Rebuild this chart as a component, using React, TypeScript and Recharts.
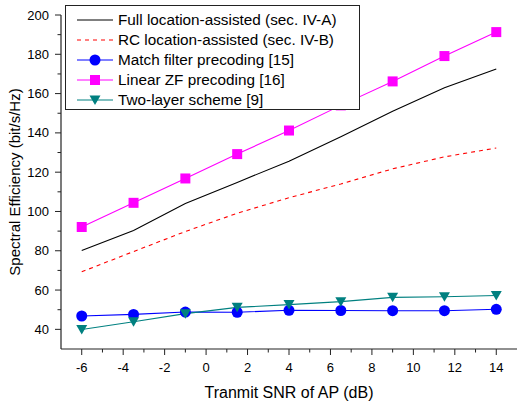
import { LineChart, Line, XAxis, YAxis, Legend } from "recharts";

const snr = [-6, -3.5, -1, 1.5, 4, 6.5, 9, 11.5, 14];
const fullLoc = [80.1, 90.3, 104.1, 114.8, 125.6, 138, 151, 163, 172.5];
const rcLoc = [69.3, 79.6, 89.8, 99.1, 107, 114, 121.7, 127.8, 132.3];
const matchFilter = [46.8, 47.6, 48.8, 48.7, 49.7, 49.6, 49.5, 49.5, 50.2];
const linearZF = [92.1, 104.4, 116.8, 129.2, 141.2, 154, 166.2, 179.1, 191.3];
const twoLayer = [39.9, 43.9, 48, 51.2, 52.6, 54.1, 56.3, 56.6, 57.2];

const seriesNames = [
  "Full location-assisted (sec. IV-A)",
  "RC location-assisted (sec. IV-B)",
  "Match filter precoding [15]",
  "Linear ZF precoding [16]",
  "Two-layer scheme [9]",
];

const xTicks = [-6, -5, -4, -3, -2, -1, 0, 1, 2, 3, 4, 5, 6, 7, 8, 9, 10, 11, 12, 13, 14];
const yTicks = [40, 50, 60, 70, 80, 90, 100, 110, 120, 130, 140, 150, 160, 170, 180, 190, 200];

const data = snr.map((s, i) => ({
  snr: s,
  full: fullLoc[i],
  rc: rcLoc[i],
  mf: matchFilter[i],
  zf: linearZF[i],
  two: twoLayer[i],
}));

const FONT = "Arial, 'Liberation Sans', sans-serif";
const AXIS = "#222";

const Square = (props: any) => {
  const { cx, cy } = props;
  if (cx == null || cy == null) return null;
  return <rect x={cx - 5} y={cy - 5} width={10} height={10} fill="#ff00ff" />;
};

const Tri = (props: any) => {
  const { cx, cy } = props;
  if (cx == null || cy == null) return null;
  return (
    <path
      d={`M${cx - 5.5},${cy - 4.5}L${cx + 5.5},${cy - 4.5}L${cx},${cy + 5}Z`}
      fill="#008080"
    />
  );
};

const XTick = (props: any) => {
  const { x, y, payload } = props;
  const major = payload.value % 2 === 0;
  return (
    <g>
      <line x1={x} x2={x} y1={y} y2={y + (major ? 6 : 3.5)} stroke={AXIS} />
      {major && (
        <text x={x} y={y + 23} textAnchor="middle" fontSize={13} fontFamily={FONT} fill="#000">
          {payload.value}
        </text>
      )}
    </g>
  );
};

const YTick = (props: any) => {
  const { x, y, payload } = props;
  const major = payload.value % 20 === 0;
  return (
    <g>
      <line x1={x} x2={x - (major ? 6 : 3.5)} y1={y} y2={y} stroke={AXIS} />
      {major && (
        <text x={x - 12} y={y + 4.5} textAnchor="end" fontSize={13} fontFamily={FONT} fill="#000">
          {payload.value}
        </text>
      )}
    </g>
  );
};

const legendMarks = [
  { color: "#000000", dash: undefined, mark: null },
  { color: "#ff0000", dash: "4 4", mark: null },
  { color: "#0000ff", dash: undefined, mark: "circle" },
  { color: "#ff00ff", dash: undefined, mark: "square" },
  { color: "#008080", dash: undefined, mark: "tri" },
];

const LegendBox = () => (
  <div
    style={{
      border: "1px solid #222",
      background: "#fff",
      width: 295,
      height: 105,
      paddingTop: 4,
      boxSizing: "border-box",
      fontFamily: FONT,
      fontSize: 15.3,
      color: "#000",
    }}
  >
    {seriesNames.map((name, i) => {
      const m = legendMarks[i];
      return (
        <div key={name} style={{ display: "flex", alignItems: "center", height: 20, whiteSpace: "nowrap" }}>
          <svg width={52} height={20} style={{ flex: "none" }}>
            <line x1={11} x2={47} y1={10} y2={10} stroke={m.color} strokeDasharray={m.dash} />
            {m.mark === "circle" && <circle cx={29} cy={10} r={5.5} fill={m.color} />}
            {m.mark === "square" && <rect x={24} y={5} width={10} height={10} fill={m.color} />}
            {m.mark === "tri" && <path d="M23.5,5.5L34.5,5.5L29,15Z" fill={m.color} />}
          </svg>
          <span style={{ lineHeight: "20px" }}>{name}</span>
        </div>
      );
    })}
  </div>
);

export default function App() {
  return (
    <div style={{ position: "absolute", left: 0, top: 0, width: 517, height: 405, background: "#fff" }}>
      <LineChart width={517} height={405} data={data} margin={{ top: 15, right: 0, left: 0, bottom: 0 }}>
        <XAxis
          dataKey="snr"
          type="number"
          domain={[-7, 15]}
          ticks={xTicks}
          interval={0}
          tickSize={0}
          tickMargin={0}
          tickLine={false}
          tick={<XTick />}
          height={56}
          axisLine={{ stroke: AXIS, strokeWidth: 1.2 }}
          label={{
            value: "Tranmit SNR of AP (dB)",
            position: "insideBottom",
            offset: 7,
            fontSize: 16,
            fontFamily: FONT,
            fill: "#000",
          }}
        />
        <YAxis
          type="number"
          domain={[30, 200]}
          ticks={yTicks}
          interval={0}
          tickSize={0}
          tickMargin={0}
          tickLine={false}
          tick={<YTick />}
          width={61}
          axisLine={{ stroke: AXIS, strokeWidth: 1.2 }}
          label={{
            value: "Spectral Efficiency (bit/s/Hz)",
            angle: -90,
            position: "insideLeft",
            offset: 15,
            style: { textAnchor: "middle" },
            fontSize: 15,
            fontFamily: FONT,
            fill: "#000",
          }}
        />
        <Legend
          layout="vertical"
          align="center"
          verticalAlign="middle"
          wrapperStyle={{ left: 65, top: 5, width: 295, height: 105, zIndex: 2 }}
          content={() => <LegendBox />}
        />
        <Line
          dataKey="full"
          type="linear"
          stroke="#000000"
          strokeWidth={1.1}
          dot={false}
          isAnimationActive={false}
        />
        <Line
          dataKey="rc"
          type="linear"
          stroke="#ff0000"
          strokeWidth={1.1}
          strokeDasharray="4 4"
          dot={false}
          isAnimationActive={false}
        />
        <Line
          dataKey="mf"
          type="linear"
          stroke="#0000ff"
          strokeWidth={1.1}
          dot={{ r: 5.5, fill: "#0000ff", stroke: "none" }}
          isAnimationActive={false}
        />
        <Line
          dataKey="zf"
          type="linear"
          stroke="#ff00ff"
          strokeWidth={1.1}
          dot={<Square />}
          isAnimationActive={false}
        />
        <Line
          dataKey="two"
          type="linear"
          stroke="#008080"
          strokeWidth={1.1}
          dot={<Tri />}
          isAnimationActive={false}
        />
      </LineChart>
    </div>
  );
}
